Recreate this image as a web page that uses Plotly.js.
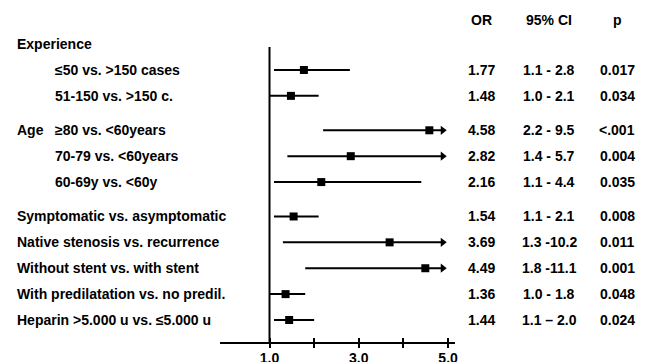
<!DOCTYPE html>
<html>
<head>
<meta charset="utf-8">
<script src="https://cdn.plot.ly/plotly-3.0.1.min.js"></script>
<style>html,body{margin:0;padding:0;background:#fff;}#chart{width:649px;height:362px;}</style>
</head>
<body>
<div id="chart"></div>
<script>
// ---------- data ----------
const sectionTitles = ['Experience', 'Age', ''];
const sectionSizes = [2, 3, 5];
const sectionTitleOwnRow = [true, false, false];

const rowLabels = [
  '≤50 vs. >150 cases',
  '51-150 vs. >150 c.',
  '≥80 vs. <60years',
  '70-79 vs. <60years',
  '60-69y vs. <60y',
  'Symptomatic vs. asymptomatic',
  'Native stenosis vs. recurrence',
  'Without stent vs. with stent',
  'With predilatation vs. no predil.',
  'Heparin >5.000 u vs. ≤5.000 u'
];
const oddsRatio = [1.77, 1.48, 4.58, 2.82, 2.16, 1.54, 3.69, 4.49, 1.36, 1.44];
const ciLow     = [1.1, 1.0, 2.2, 1.4, 1.1, 1.1, 1.3, 1.8, 1.0, 1.1];
const ciHigh    = [2.8, 2.1, 9.5, 5.7, 4.4, 2.1, 10.2, 11.1, 1.8, 2.0];
const orText = ['1.77', '1.48', '4.58', '2.82', '2.16', '1.54', '3.69', '4.49', '1.36', '1.44'];
const ciText = ['1.1 - 2.8', '1.0 - 2.1', '2.2 - 9.5', '1.4 - 5.7', '1.1 - 4.4',
                '1.1 - 2.1', '1.3 -10.2', '1.8 -11.1', '1.0 - 1.8', '1.1 \u2013 2.0'];
const pText = ['0.017', '0.034', '<.001', '0.004', '0.035', '0.008', '0.011', '0.001', '0.048', '0.024'];
const columnHeaders = ['OR', '95% CI', 'p'];
const tickValues = [1, 2, 3, 4, 5];
const tickLabels = ['1.0', '', '3.0', '', '5.0'];
const referenceValue = 1;

// ---------- layout constants ----------
const W = 649, H = 362;
const M = {l: 220, r: 194, t: 10, b: 20};
const plotW = W - M.l - M.r;
const xRange = [-0.109, 5.155];
const yRange = [11.51, -1.318];
const GROUP_GAP = 1.33;
const ARROW_CAP = 4.88;
const FONT = 'Liberation Sans, Arial, Helvetica, sans-serif';
const px2paper = px => (px - M.l) / plotW;
const titleX = px2paper(15), indentX = px2paper(53);
const colX = [px2paper(481), px2paper(549), px2paper(617)];

// ---------- row positions ----------
const rowY = [];
const annotations = [];
const rowIndent = [];
let y = 0;
sectionSizes.forEach((n, si) => {
  if (si > 0) y += GROUP_GAP;
  const title = sectionTitles[si];
  if (title) {
    annotations.push({xref: 'paper', yref: 'y', x: titleX, y: y, text: '<b>' + title + '</b>',
      showarrow: false, xanchor: 'left', yanchor: 'middle'});
    if (sectionTitleOwnRow[si]) y += 1;
  }
  for (let k = 0; k < n; k++) {
    rowY.push(y);
    rowIndent.push(title ? indentX : titleX);
    if (k < n - 1) y += 1;
  }
});
const headerY = -0.93;
const refTop = 0.11;

rowLabels.forEach((lab, i) => {
  annotations.push({xref: 'paper', yref: 'y', x: rowIndent[i], y: rowY[i], text: '<b>' + lab + '</b>',
    showarrow: false, xanchor: 'left', yanchor: 'middle'});
  [orText[i], ciText[i], pText[i]].forEach((t, c) => {
    annotations.push({xref: 'paper', yref: 'y', x: colX[c], y: rowY[i], text: '<b>' + t + '</b>',
      showarrow: false, xanchor: 'center', yanchor: 'middle'});
  });
});
columnHeaders.forEach((h, c) => {
  annotations.push({xref: 'paper', yref: 'y', x: colX[c], y: headerY, text: '<b>' + h + '</b>',
    showarrow: false, xanchor: 'center', yanchor: 'middle'});
});

// ---------- traces ----------
const lx = [], ly = [], ax = [], ay = [];
rowY.forEach((yy, i) => {
  const hi = Math.min(ciHigh[i], ARROW_CAP);
  lx.push(ciLow[i], hi, null); ly.push(yy, yy, null);
  if (ciHigh[i] > ARROW_CAP) { ax.push(ARROW_CAP); ay.push(yy); }
});

const traces = [
  {x: lx, y: ly, mode: 'lines', line: {color: '#000', width: 2}, hoverinfo: 'skip', cliponaxis: false},
  {x: oddsRatio, y: rowY, mode: 'markers', marker: {symbol: 'square', size: 8, color: '#000'}, cliponaxis: false},
  {x: ax, y: ay, mode: 'markers', marker: {symbol: 'triangle-right', size: 8, color: '#000'}, cliponaxis: false},
  {x: [referenceValue], y: [rowY[0]], xaxis: 'x2', yaxis: 'y', mode: 'markers', marker: {opacity: 0}, hoverinfo: 'skip'}
];

const layout = {
  width: W, height: H,
  margin: M,
  paper_bgcolor: '#fff', plot_bgcolor: '#fff',
  showlegend: false,
  font: {family: FONT, size: 14, color: '#000'},
  xaxis: {
    range: xRange, showgrid: false, zeroline: false,
    showline: true, linecolor: '#000', linewidth: 2,
    tickmode: 'array', tickvals: tickValues, ticktext: tickLabels.map(t => t ? '<b>' + t + '</b>' : ''),
    ticks: 'outside', ticklen: 4, tickwidth: 2, tickcolor: '#000',
    ticklabelstandoff: -2,
    tickfont: {family: FONT, size: 14, color: '#000'}, fixedrange: true
  },
  xaxis2: {
    overlaying: 'x', anchor: 'y', side: 'bottom', range: xRange,
    showgrid: false, zeroline: false, showline: false,
    tickmode: 'array', tickvals: tickValues, showticklabels: false,
    ticks: 'inside', ticklen: 4, tickwidth: 2, tickcolor: '#000'
  },
  yaxis: {
    range: yRange, showgrid: false, zeroline: false, showline: false,
    showticklabels: false, ticks: '', fixedrange: true
  },
  shapes: [
    {type: 'line', xref: 'x', yref: 'y', x0: referenceValue, x1: referenceValue,
     y0: refTop, y1: yRange[0], line: {color: '#000', width: 2}}
  ],
  annotations: annotations
};

Plotly.newPlot('chart', traces, layout, {displayModeBar: false, staticPlot: true});
</script>
</body>
</html>
